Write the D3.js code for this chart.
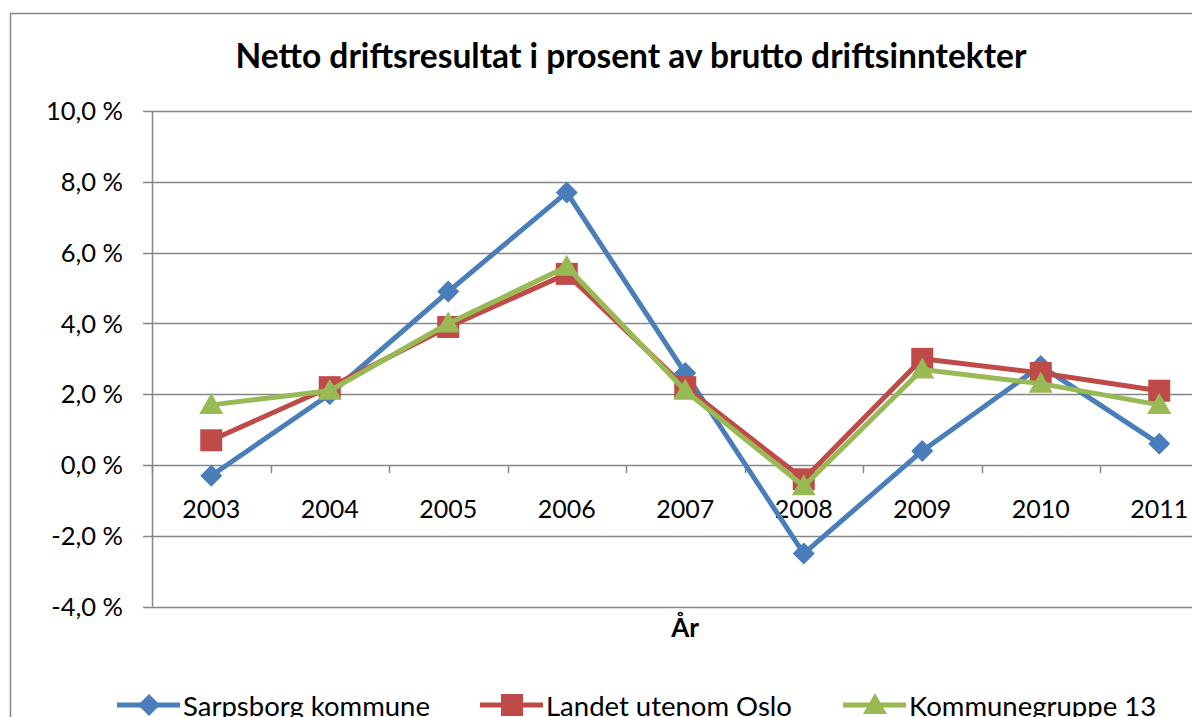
<!DOCTYPE html>
<html><head><meta charset="utf-8">
<script src="https://cdn.jsdelivr.net/npm/d3@7"></script>
<style>html,body{margin:0;padding:0;background:#fff;overflow:hidden}</style>
</head><body>
<svg id="c" width="1192" height="717"></svg>
<script>
const years = ["2003","2004","2005","2006","2007","2008","2009","2010","2011"];
const sarpsborg = [-0.3, 2.0, 4.9, 7.7, 2.6, -2.5, 0.4, 2.8, 0.6];
const landet = [0.7, 2.2, 3.9, 5.4, 2.2, -0.4, 3.0, 2.6, 2.1];
const kgruppe = [1.7, 2.1, 4.0, 5.6, 2.1, -0.6, 2.7, 2.3, 1.7];
const yTicks = [-4, -2, 0, 2, 4, 6, 8, 10];
const seriesNames = ["Sarpsborg kommune", "Landet utenom Oslo", "Kommunegruppe 13"];
const title = "Netto driftsresultat i prosent av brutto driftsinntekter";
const xTitle = "År";

const font = "Lato, 'Open Sans', sans-serif";
const svg = d3.select("#c");
svg.append("rect").attr("x",10.5).attr("y",13.5).attr("width",1300).attr("height",800)
  .attr("fill","#fff").attr("stroke","#868686").attr("stroke-width",1.5);

const L = 152, T = 111, band = 118.5;
const x = d3.scaleBand().domain(years).range([L, L + band*years.length]).padding(0);
const y = d3.scaleLinear().domain([-4, 10]).range([606.7, T]);

// gridlines
svg.append("g").selectAll("line").data(yTicks).join("line")
  .attr("x1", L-9).attr("x2", 1300)
  .attr("y1", d=>Math.round(y(d))+0.5).attr("y2", d=>Math.round(y(d))+0.5)
  .attr("stroke","#868686").attr("stroke-width",1.5);
// y axis line
svg.append("line").attr("x1",L+0.5).attr("x2",L+0.5).attr("y1",T).attr("y2",y(-4))
  .attr("stroke","#868686").attr("stroke-width",1.5);
// x ticks at band boundaries
const bounds = years.map((d,i)=>L + band*i).concat([L+band*years.length]);
svg.append("g").selectAll("line").data(bounds).join("line")
  .attr("x1",d=>Math.round(d)+0.5).attr("x2",d=>Math.round(d)+0.5)
  .attr("y1",y(0)).attr("y2",y(0)+8).attr("stroke","#868686").attr("stroke-width",1.5);

// y labels
svg.append("g").selectAll("text").data(yTicks).join("text")
  .attr("x",123).attr("y",d=>y(d)).attr("dy","0.36em").attr("text-anchor","end")
  .attr("font-family",font).attr("font-size",25.5).attr("fill","#000")
  .text(d=>d3.format(".1f")(d).replace(".",",").replace("−","-")+" %");
// x labels
svg.append("g").selectAll("text").data(years).join("text")
  .attr("x",d=>x(d)+band/2).attr("y",518).attr("text-anchor","middle")
  .attr("font-family",font).attr("font-size",25).attr("fill","#000").text(d=>d);

svg.append("text").attr("x",631).attr("y",68).attr("text-anchor","middle")
  .attr("font-family",font).attr("font-weight","bold").attr("font-size",33.5).text(title);
svg.append("text").attr("x",685).attr("y",637).attr("text-anchor","middle")
  .attr("font-family",font).attr("font-weight","bold").attr("font-size",26).text(xTitle);

const colors = ["#4A7EBB","#BE4B48","#98B954"];
const data = [sarpsborg, landet, kgruppe];
const line = d3.line().x((d,i)=>x(years[i])+band/2).y(d=>y(d));

function marker(g, k, cx, cy){
  if(k===0){
    g.append("path").attr("d",`M${cx},${cy-11}L${cx+11},${cy}L${cx},${cy+11}L${cx-11},${cy}Z`).attr("fill",colors[0]);
  } else if(k===1){
    g.append("rect").attr("x",cx-11).attr("y",cy-11).attr("width",22).attr("height",22).attr("fill",colors[1]);
  } else {
    g.append("path").attr("d",`M${cx},${cy-12}L${cx+12},${cy+9}L${cx-12},${cy+9}Z`).attr("fill",colors[2]);
  }
}

data.forEach((vals,k)=>{
  const g = svg.append("g");
  g.append("path").attr("d",line(vals)).attr("fill","none").attr("stroke",colors[k])
    .attr("stroke-width",5).attr("stroke-linejoin","round");
  vals.forEach((v,i)=>marker(g,k,x(years[i])+band/2,y(v)));
});

// legend
const legX = [117, 480, 843];
seriesNames.forEach((n,k)=>{
  const g = svg.append("g");
  const ly = 705;
  g.append("line").attr("x1",legX[k]).attr("x2",legX[k]+63).attr("y1",ly).attr("y2",ly)
    .attr("stroke",colors[k]).attr("stroke-width",5);
  marker(g,k,legX[k]+32,ly);
  g.append("text").attr("x",legX[k]+66).attr("y",716).attr("font-family",font)
    .attr("font-size",27.5).text(n);
});
</script>
</body></html>
